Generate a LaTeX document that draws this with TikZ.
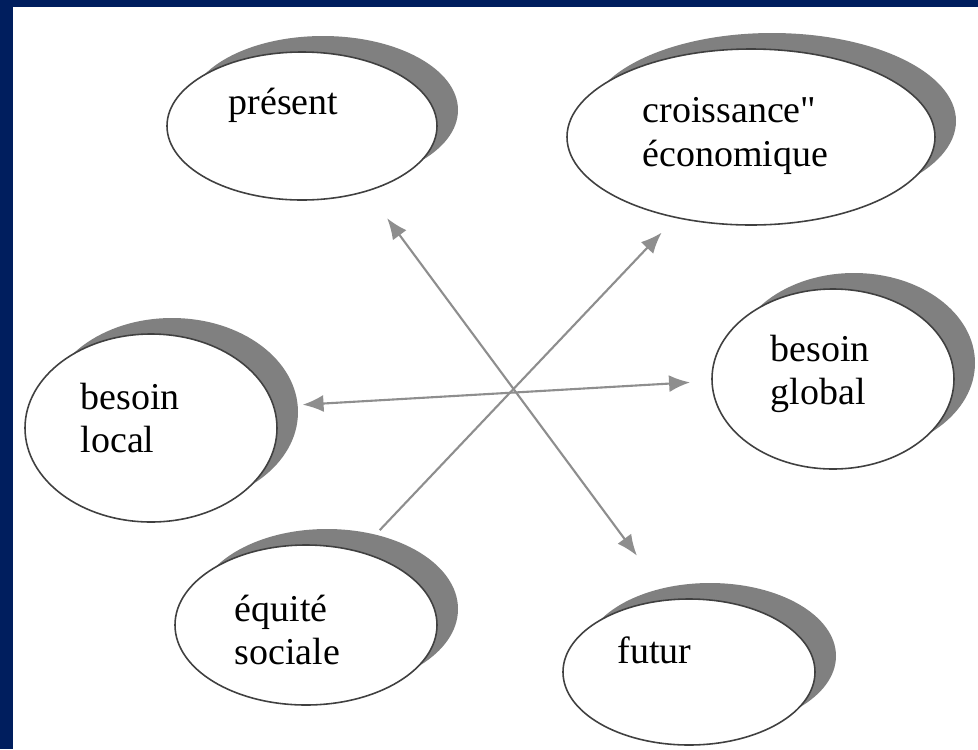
\documentclass[tikz,border=0pt]{standalone}
\usepackage{fontspec}
\setmainfont{Liberation Serif}[Ligatures=TeXOff]
\usepackage{tikz}
\usetikzlibrary{shapes.geometric, shadows, arrows.meta}
\definecolor{framenavy}{HTML}{001E5E}
\definecolor{shadegray}{HTML}{808080}
\definecolor{arrowgray}{HTML}{8E8E8E}
\tikzset{
    bubble/.style={ellipse, draw=black!75, line width=0.45pt, fill=white, inner sep=0pt, outer sep=0pt,
        drop shadow={shadow xshift=0.21cm, shadow yshift=0.16cm, fill=shadegray, opacity=1}},
    word/.style={anchor=west, align=left, inner sep=0pt, font=\fontsize{10.8}{12.4}\selectfont},
    link/.style={arrowgray, line width=0.6pt},
    tip/.tip={Latex[length=0.21cm, width=0.17cm]}
}

\begin{document}
\begin{tikzpicture}
            \fill [framenavy] (0, 0) rectangle (9.78, 7.49);
            \fill [white] (0.13, 0) rectangle (9.78, 7.42);
            \useasboundingbox (0, 0) rectangle (9.78, 7.49);

            \node [bubble, minimum width=2.70cm, minimum height=1.48cm] (pres) at (3.02, 6.23) {};
            \node [bubble, minimum width=3.68cm, minimum height=1.76cm] (crois) at (7.51, 6.12) {};
            \node [bubble, minimum width=2.42cm, minimum height=1.80cm] (global) at (8.33, 3.70) {};
            \node [bubble, minimum width=2.52cm, minimum height=1.88cm] (local) at (1.51, 3.21) {};
            \node [bubble, minimum width=2.62cm, minimum height=1.60cm] (equite) at (3.06, 1.24) {};
            \node [bubble, minimum width=2.52cm, minimum height=1.46cm] (futur) at (6.89, 0.77) {};

            \node [word] (presT) at (2.28, 6.44) {présent};
            \node [word] (croisT) at (6.42, 6.13) {croissance"\\économique};
            \node [word] (globalT) at (7.70, 3.75) {besoin\\global};
            \node [word] (localT) at (0.80, 3.31) {besoin\\local};
            \node [word] (equiteT) at (2.34, 1.19) {équité\\sociale};
            \node [word] (futurT) at (6.17, 0.99) {futur};

            \draw [link, tip-tip, shorten <=0.34cm, shorten >=0.55cm] (pres.-45) -- (futur.105);
            \draw [link, -tip, shorten <=0.30cm, shorten >=0.21cm] (equite.54) -- (crois.-133);
            \draw [link, tip-tip, shorten <=0.29cm, shorten >=0.22cm] (local.10) -- (global.181);
        \end{tikzpicture}
\end{document}
